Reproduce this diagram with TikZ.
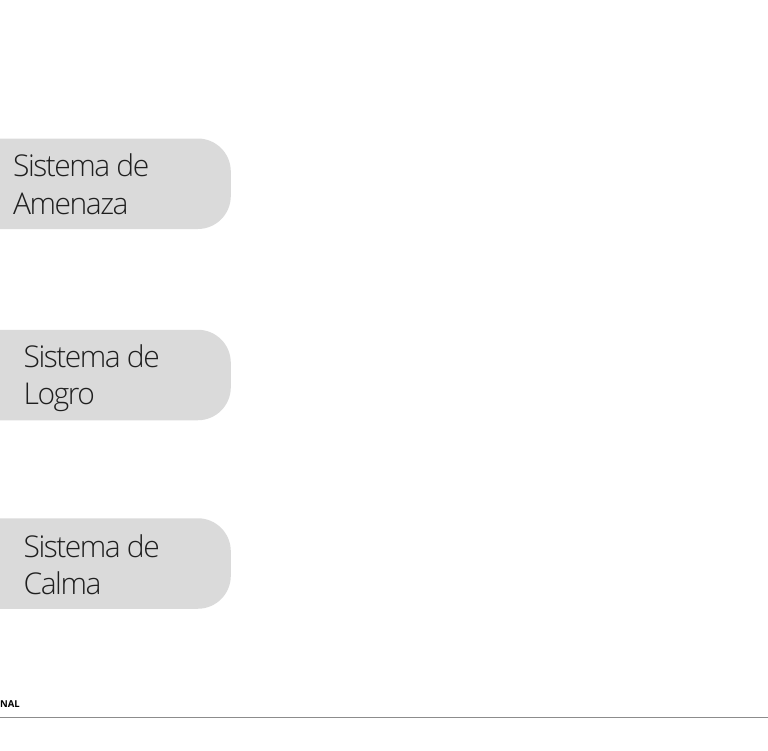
\documentclass[tikz,border=0pt]{standalone}
\usepackage{fontspec}
\setmainfont{Open Sans}
\newfontfamily\sysfont{Open Sans Light}[LetterSpace=-5]
\IfFontExistsTF{Open Sans ExtraBold}{\newfontfamily\piefont{Open Sans ExtraBold}}{\newfontfamily\piefont{Open Sans Bold}}
\definecolor{boxgray}{HTML}{DADADA}
\definecolor{rulegray}{HTML}{8C8C8C}
\tikzset{
	sysbox/.style={fill=boxgray, rounded corners=33pt, minimum width=290pt,
		minimum height=90.5pt, inner sep=0pt, anchor=east},
	systext/.style={anchor=west, align=left, inner sep=0pt, text=black!88,
		font=\sysfont\fontsize{30}{37.5}\selectfont}
}

\begin{document}
\begin{tikzpicture}[x=1pt,y=-1pt]

				\useasboundingbox (0,0) rectangle (768,750);
				\clip (0,0) rectangle (768,750);

				\node [sysbox] (amenaza) at (231,183.75) {};
				\node [systext] (amenaza-txt) at (13,184.3) {Sistema de\\Amenaza};

				\node [sysbox] (logro) at (231,375) {};
				\node [systext] (logro-txt) at (23.5,378) {Sistema de\\Logro};

				\node [sysbox] (calma) at (231,563.5) {};
				\node [systext] (calma-txt) at (23.5,564.5) {Sistema de\\Calma};

				\node [anchor=west, inner sep=0pt, font=\piefont\fontsize{9.5}{11}\selectfont]
				(pie) at (0,704) {NAL};
				\coordinate (regla-izq) at (0,717.5);
				\coordinate (regla-der) at (768,717.5);
				\draw [rulegray, line width=1.5pt] (regla-izq) -- (regla-der);

			\end{tikzpicture}
\end{document}
